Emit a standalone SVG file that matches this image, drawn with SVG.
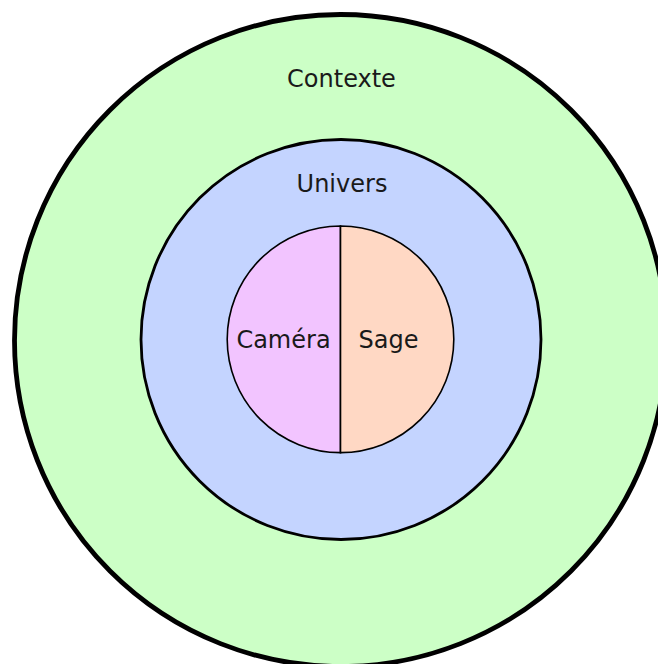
<svg xmlns="http://www.w3.org/2000/svg" width="658" height="664" viewBox="0 0 658 664">
<style>
text{font-family:"DejaVu Sans",sans-serif;font-size:24px;fill:#1a1a1a;text-anchor:middle}
.ring{stroke:#000}
</style>
<rect width="658" height="664" fill="#fff"/>
<g id="contexte">
<circle class="ring" cx="340.5" cy="340.5" r="326" fill="#ccffc6" stroke-width="4.8"/>
<text x="341.5" y="87">Contexte</text>
</g>
<g id="univers">
<circle class="ring" cx="341" cy="339.5" r="200" fill="#c4d4ff" stroke-width="2.8"/>
<text x="342" y="192">Univers</text>
</g>
<g id="camera">
<path class="ring" d="M340.5,226 A113.3,113.3 0 0 0 340.5,452.6 Z" fill="#f2c4ff" stroke-width="1.6"/>
<text x="283.5" y="348">Caméra</text>
</g>
<g id="sage">
<path class="ring" d="M340.5,226 A113.3,113.3 0 0 1 340.5,452.6 Z" fill="#ffd8c4" stroke-width="1.6"/>
<text x="388.5" y="348">Sage</text>
</g>
<g id="connectors"></g>
</svg>
